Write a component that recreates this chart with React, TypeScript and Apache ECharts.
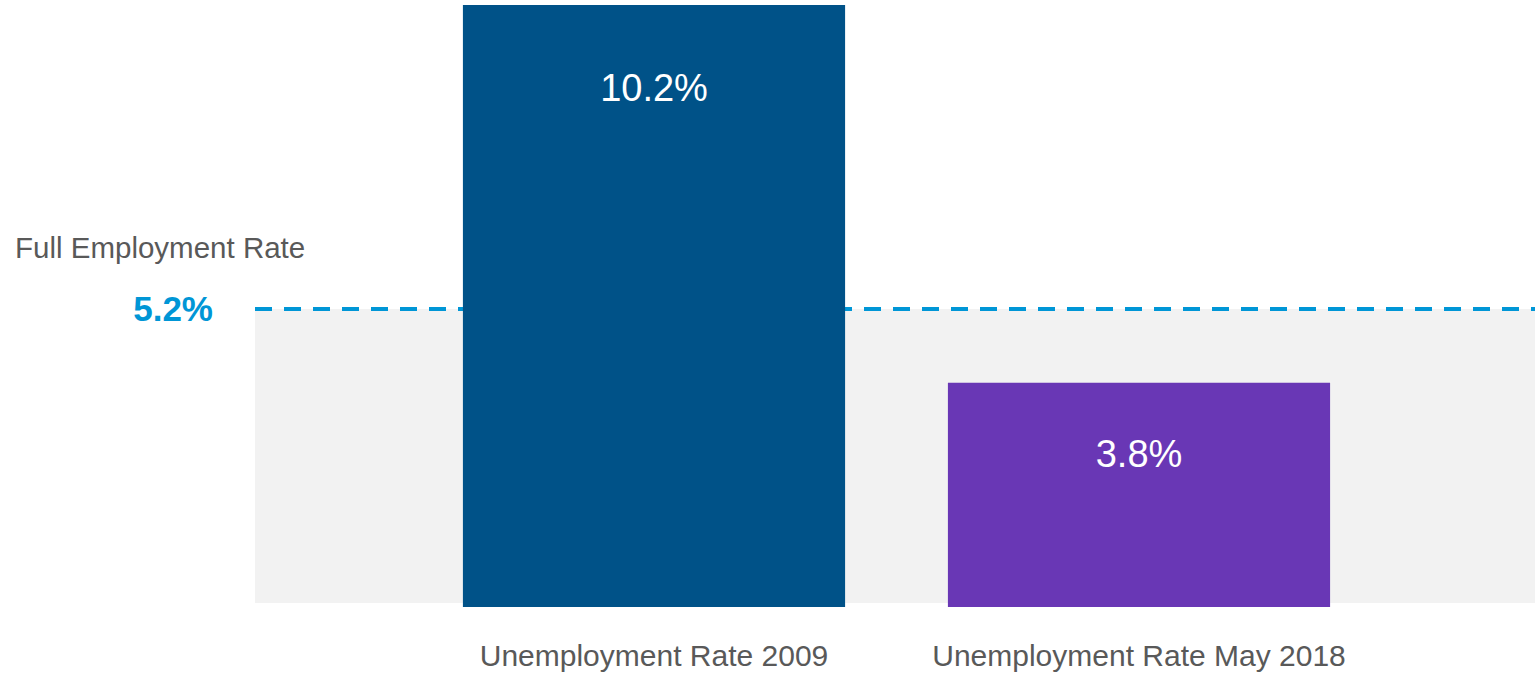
import React, { useEffect, useRef } from "react";
import * as echarts from "echarts";

const categories = ["Unemployment Rate 2009", "Unemployment Rate May 2018"];
const rates = [10.2, 3.8];
const fullEmploymentRate = 5.2;
const fullEmploymentTitle = "Full Employment Rate";
const axisMax = 10.2;

const barColors = ["#005288", "#6937B5"];
const labelDistances = [64, 52];

export default function App() {
  const ref = useRef<HTMLDivElement>(null);
  useEffect(() => {
    if (!ref.current) return;
    const chart = echarts.init(ref.current, undefined, { renderer: "svg" });
    const font = "'Liberation Sans', Arial, Helvetica, sans-serif";
    chart.setOption({
      animation: false,
      backgroundColor: "#ffffff",
      grid: [
        { left: 255, right: 0, top: 26.3, height: 576.7, containLabel: false },
        { left: 411.5, width: 970, top: 5, height: 602, containLabel: false },
      ],
      xAxis: [
        { type: "value", gridIndex: 0, min: 0, max: 1, show: false },
        {
          type: "category",
          gridIndex: 1,
          data: categories,
          axisLine: { show: false },
          axisTick: { show: false },
          splitLine: { show: false },
          axisLabel: {
            color: "#595959",
            fontFamily: font,
            fontSize: 30,
            margin: 33,
            interval: 0,
          },
        },
      ],
      yAxis: [
        { type: "value", gridIndex: 0, min: 0, max: axisMax, show: false, splitLine: { show: false } },
        { type: "value", gridIndex: 1, min: 0, max: axisMax, show: false, splitLine: { show: false } },
      ],
      graphic: [
        {
          type: "text",
          left: 15,
          top: 232,
          style: {
            text: fullEmploymentTitle,
            fill: "#595959",
            font: `29.5px ${font}`,
          },
        },
      ],
      series: [
        {
          type: "line",
          xAxisIndex: 0,
          yAxisIndex: 0,
          data: [],
          z: 1,
          silent: true,
          markArea: {
            silent: true,
            itemStyle: { color: "#F2F2F2" },
            data: [[{ yAxis: 0 }, { yAxis: fullEmploymentRate }]],
          },
          markLine: {
            silent: true,
            symbol: "none",
            lineStyle: { color: "#0096D6", width: 4, type: [17, 12] },
            label: {
              show: true,
              position: "start",
              distance: 42,
              formatter: (p: any) => `${p.value}%`,
              color: "#0096D6",
              fontFamily: font,
              fontWeight: "bold",
              fontSize: 35,
            },
            data: [{ yAxis: fullEmploymentRate }],
          },
        },
        {
          type: "bar",
          xAxisIndex: 1,
          yAxisIndex: 1,
          z: 5,
          barCategoryGap: "21.2%",
          data: rates.map((v, i) => ({
            value: v,
            itemStyle: { color: barColors[i] },
            label: { distance: labelDistances[i] },
          })),
          label: {
            show: true,
            position: "insideTop",
            formatter: (p: any) => `${p.value}%`,
            color: "#ffffff",
            fontFamily: font,
            fontSize: 38,
          },
        },
      ],
    });
    return () => chart.dispose();
  }, []);
  return (
    <div
      ref={ref}
      style={{ position: "fixed", left: 0, top: 0, width: 1535, height: 678 }}
    />
  );
}
